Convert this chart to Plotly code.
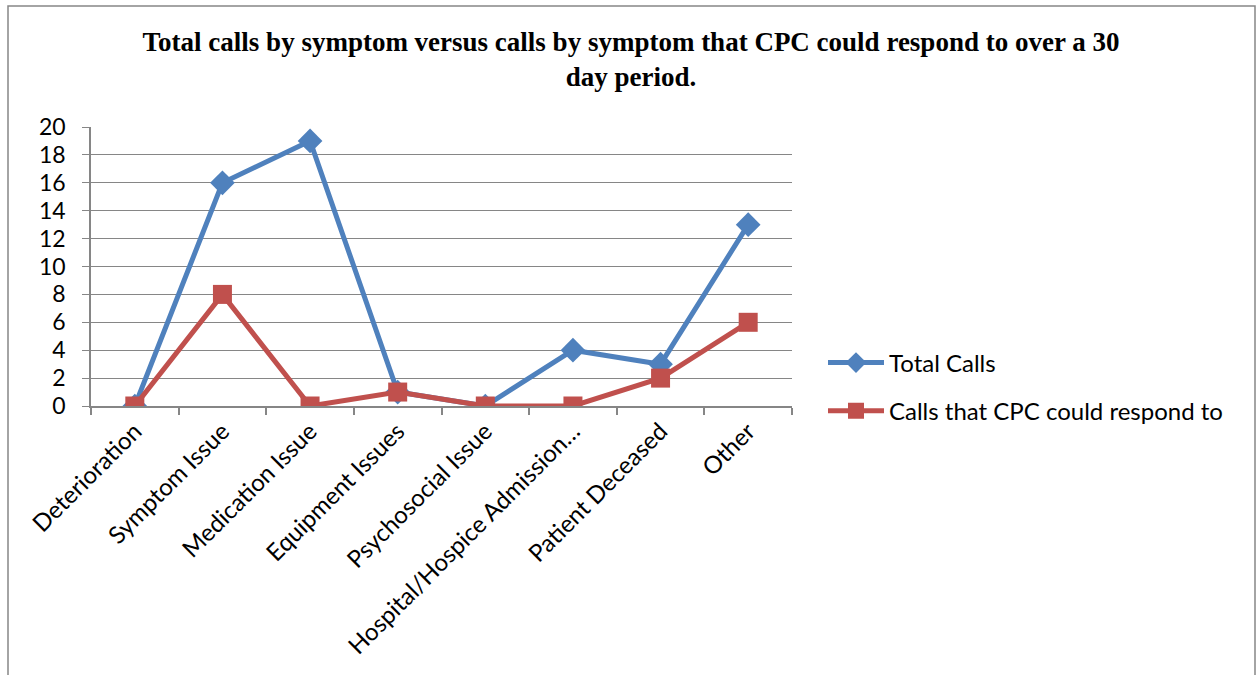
import plotly.graph_objects as go

categories = ["Deterioration", "Symptom Issue", "Medication Issue", "Equipment Issues",
              "Psychosocial Issue", "Hospital/Hospice Admission…", "Patient Deceased", "Other"]
total_calls = [0, 16, 19, 1, 0, 4, 3, 13]
cpc_calls = [0, 8, 0, 1, 0, 0, 2, 6]
y_ticks = list(range(0, 21, 2))

W, H = 1259, 675
L, R, T, B = 91, 792, 127, 406

fig = go.Figure()
fig.add_trace(go.Scatter(
    x=categories, y=total_calls, name="Total Calls", mode="lines+markers",
    line=dict(color="#4F81BD", width=5),
    marker=dict(symbol="diamond", size=19, color="#4F81BD"),
    legendgroup="a"))
fig.add_trace(go.Scatter(
    x=categories, y=cpc_calls, name="Calls that CPC could respond to", mode="lines+markers",
    line=dict(color="#C0504D", width=5),
    marker=dict(symbol="square", size=19, color="#C0504D"),
    legendgroup="b"))

def px(x):
    return (x - L) / (R - L)

def py(y):
    return (B - y) / (B - T)

fig.add_shape(type="rect", xref="paper", yref="paper",
              x0=px(8), x1=px(1255), y0=py(690), y1=py(6),
              line=dict(color="#868686", width=1.5), fillcolor="rgba(0,0,0,0)", layer="below")

fig.update_layout(
    width=W, height=H,
    margin=dict(l=L, r=W - R, t=T, b=H - B),
    paper_bgcolor="white", plot_bgcolor="white",
    title=dict(
        text="Total calls by symptom versus calls by symptom that CPC could respond to over a 30<br>day period.",
        font=dict(family="Liberation Serif", size=27, color="black", weight="bold"),
        x=631 / W, xanchor="center", xref="container",
        y=1 - 51 / H, yanchor="top", yref="container"),
    font=dict(family="Lato", size=22, color="black"),
    showlegend=True,
    legend=dict(x=px(823), y=py(387), xanchor="left", yanchor="middle",
                font=dict(family="Lato", size=24, color="black"),
                tracegroupgap=14, itemwidth=56, bgcolor="rgba(0,0,0,0)"),
    xaxis=dict(
        type="category", tickangle=-45, showgrid=False,
        showline=True, linecolor="#868686", linewidth=1.5,
        ticks="outside", tickson="boundaries", ticklen=7, tickcolor="#868686", tickwidth=1.5,
        tickfont=dict(family="Lato", size=24, color="black"),
        range=[-0.5, 7.5]),
    yaxis=dict(
        range=[0, 20], tickvals=y_ticks, showgrid=True, gridcolor="#868686", gridwidth=1,
        showline=True, linecolor="#868686", linewidth=1.5,
        ticks="outside", ticklen=7, tickcolor="#868686", tickwidth=1,
        ticklabelstandoff=12,
        tickfont=dict(family="Lato", size=23, color="black"), zeroline=False),
)

fig.write_html("out.html", config={"displayModeBar": False},
               post_script="document.body.style.margin='0';document.body.style.overflow='hidden';")
